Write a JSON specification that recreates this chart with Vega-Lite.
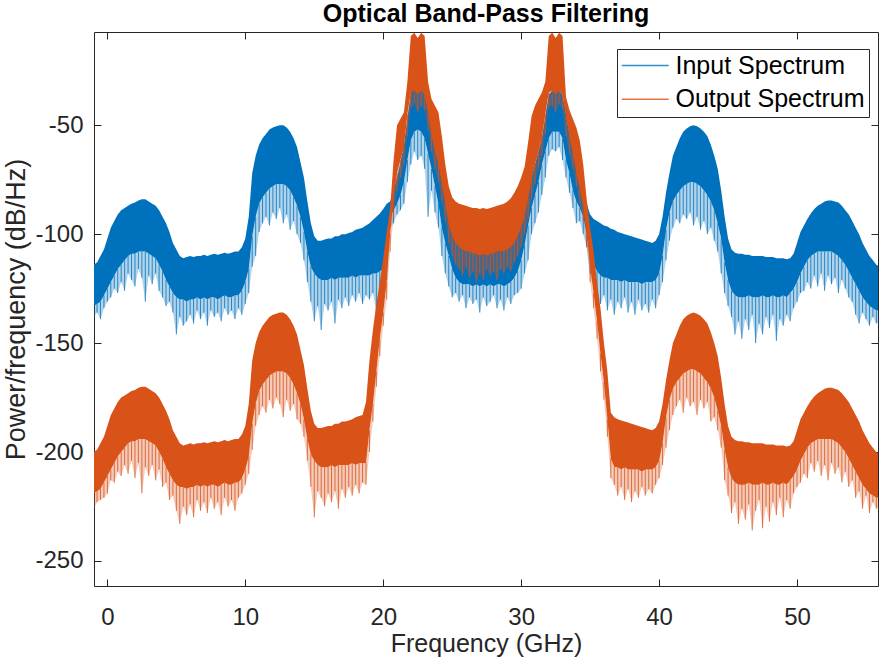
{
  "$schema": "https://vega.github.io/schema/vega-lite/v6.json",
  "width": 784,
  "height": 554,
  "autosize": {"type": "none"},
  "padding": {"left": 94, "top": 32, "right": 2, "bottom": 75},
  "background": "white",
  "title": {
    "text": "Optical Band-Pass Filtering",
    "font": "Liberation Sans",
    "fontSize": 25,
    "fontWeight": "bold",
    "color": "#000000",
    "anchor": "middle",
    "baseline": "bottom",
    "offset": 4,
    "dy": 24
  },
  "config": {
    "view": {"stroke": null},
    "font": "Liberation Sans",
    "axis": {
      "grid": false,
      "domainColor": "#262626",
      "domainWidth": 1,
      "tickColor": "#262626",
      "tickWidth": 1,
      "labelColor": "#262626",
      "labelFont": "Liberation Sans",
      "labelFontSize": 24,
      "labelFlush": false,
      "labelOverlap": false,
      "titleColor": "#262626",
      "titleFont": "Liberation Sans",
      "titleFontSize": 25,
      "titleFontWeight": "normal",
      "zindex": 1
    }
  },
  "datasets": {
    "input": [
      {"f":-1,"hi":-114,"lo":-133,"sp":-138},{"f":-0.75,"hi":-113,"lo":-132,"sp":-136},{"f":-0.5,"hi":-110,"lo":-131,"sp":-139},{"f":-0.25,"hi":-107,"lo":-128,"sp":-134},
      {"f":0,"hi":-102,"lo":-125,"sp":-131},{"f":0.25,"hi":-97,"lo":-122,"sp":-129},{"f":0.5,"hi":-94,"lo":-119,"sp":-125},{"f":0.75,"hi":-91,"lo":-116,"sp":-127},
      {"f":1,"hi":-89,"lo":-114,"sp":-122},{"f":1.25,"hi":-88,"lo":-112,"sp":-126},{"f":1.5,"hi":-87,"lo":-110,"sp":-118},{"f":1.75,"hi":-86,"lo":-109,"sp":-121},
      {"f":2,"hi":-85.5,"lo":-109,"sp":-124},{"f":2.25,"hi":-84.5,"lo":-108,"sp":-116},{"f":2.5,"hi":-84,"lo":-108,"sp":-120},{"f":2.75,"hi":-84,"lo":-108,"sp":-131},
      {"f":3,"hi":-85,"lo":-109,"sp":-119},{"f":3.25,"hi":-86,"lo":-110,"sp":-123},{"f":3.5,"hi":-87,"lo":-111,"sp":-118},{"f":3.75,"hi":-89,"lo":-114,"sp":-126},
      {"f":4,"hi":-92,"lo":-117,"sp":-129},{"f":4.25,"hi":-95,"lo":-121,"sp":-133},{"f":4.5,"hi":-99,"lo":-124,"sp":-131},{"f":4.75,"hi":-104,"lo":-127,"sp":-136},
      {"f":5,"hi":-107,"lo":-129,"sp":-146},{"f":5.25,"hi":-110,"lo":-130,"sp":-138},{"f":5.5,"hi":-111,"lo":-130,"sp":-142},{"f":5.75,"hi":-110.5,"lo":-131,"sp":-140},
      {"f":6,"hi":-110,"lo":-130,"sp":-137},{"f":6.25,"hi":-110.5,"lo":-130,"sp":-141},{"f":6.5,"hi":-110,"lo":-129,"sp":-135},{"f":6.75,"hi":-110,"lo":-130,"sp":-139},
      {"f":7,"hi":-109.5,"lo":-129,"sp":-136},{"f":7.25,"hi":-110,"lo":-130,"sp":-142},{"f":7.5,"hi":-109.5,"lo":-129,"sp":-135},{"f":7.75,"hi":-109,"lo":-129,"sp":-138},
      {"f":8,"hi":-109.5,"lo":-130,"sp":-136},{"f":8.25,"hi":-109,"lo":-129,"sp":-140},{"f":8.5,"hi":-108.5,"lo":-128,"sp":-134},{"f":8.75,"hi":-109,"lo":-129,"sp":-137},
      {"f":9,"hi":-108.5,"lo":-129,"sp":-135},{"f":9.25,"hi":-108,"lo":-128,"sp":-139},{"f":9.5,"hi":-108,"lo":-128,"sp":-134},{"f":9.75,"hi":-106,"lo":-126,"sp":-137},
      {"f":10,"hi":-102,"lo":-122,"sp":-132},{"f":10.25,"hi":-92,"lo":-116,"sp":-127},{"f":10.5,"hi":-72,"lo":-101,"sp":-115},{"f":10.75,"hi":-64,"lo":-92,"sp":-110},
      {"f":11,"hi":-59,"lo":-86,"sp":-99},{"f":11.25,"hi":-56,"lo":-83,"sp":-95},{"f":11.5,"hi":-54,"lo":-81,"sp":-92},{"f":11.75,"hi":-52,"lo":-79,"sp":-96},
      {"f":12,"hi":-51,"lo":-78,"sp":-90},{"f":12.25,"hi":-50.5,"lo":-77,"sp":-93},{"f":12.5,"hi":-50,"lo":-77,"sp":-88},{"f":12.75,"hi":-50,"lo":-77,"sp":-95},
      {"f":13,"hi":-51,"lo":-78,"sp":-91},{"f":13.25,"hi":-53,"lo":-80,"sp":-98},{"f":13.5,"hi":-56,"lo":-83,"sp":-94},{"f":13.75,"hi":-60,"lo":-87,"sp":-100},
      {"f":14,"hi":-67,"lo":-92,"sp":-104},{"f":14.25,"hi":-74,"lo":-99,"sp":-112},{"f":14.5,"hi":-85,"lo":-108,"sp":-122},{"f":14.75,"hi":-95,"lo":-115,"sp":-131},
      {"f":15,"hi":-101,"lo":-118,"sp":-140},{"f":15.25,"hi":-103,"lo":-120,"sp":-133},{"f":15.5,"hi":-103,"lo":-121,"sp":-144},{"f":15.75,"hi":-102.5,"lo":-121,"sp":-132},
      {"f":16,"hi":-102,"lo":-121,"sp":-135},{"f":16.25,"hi":-102,"lo":-120,"sp":-131},{"f":16.5,"hi":-101,"lo":-121,"sp":-141},{"f":16.75,"hi":-101,"lo":-120,"sp":-130},
      {"f":17,"hi":-100,"lo":-120,"sp":-134},{"f":17.25,"hi":-100,"lo":-120,"sp":-129},{"f":17.5,"hi":-99.5,"lo":-120,"sp":-133},{"f":17.75,"hi":-99,"lo":-119,"sp":-128},
      {"f":18,"hi":-98,"lo":-120,"sp":-131},{"f":18.25,"hi":-97.5,"lo":-119,"sp":-127},{"f":18.5,"hi":-97,"lo":-119,"sp":-132},{"f":18.75,"hi":-96,"lo":-119,"sp":-128},
      {"f":19,"hi":-95,"lo":-119,"sp":-130},{"f":19.25,"hi":-93.5,"lo":-118,"sp":-127},{"f":19.5,"hi":-92,"lo":-118,"sp":-136},{"f":19.75,"hi":-90.5,"lo":-117,"sp":-128},
      {"f":20,"hi":-88.5,"lo":-116,"sp":-126},{"f":20.25,"hi":-86,"lo":-112,"sp":-121},{"f":20.5,"hi":-85,"lo":-92,"sp":-97},{"f":20.75,"hi":-80,"lo":-89,"sp":-95},
      {"f":21,"hi":-74,"lo":-86,"sp":-91},{"f":21.25,"hi":-67,"lo":-82,"sp":-89},{"f":21.5,"hi":-59,"lo":-76,"sp":-86},{"f":21.75,"hi":-47,"lo":-66,"sp":-76},
      {"f":22,"hi":-35,"lo":-57,"sp":-68},{"f":22.25,"hi":-33,"lo":-53,"sp":-62},{"f":22.5,"hi":-32,"lo":-52,"sp":-66},{"f":22.75,"hi":-33,"lo":-53,"sp":-64},
      {"f":23,"hi":-35,"lo":-56,"sp":-70},{"f":23.25,"hi":-42,"lo":-63,"sp":-92},{"f":23.5,"hi":-50,"lo":-70,"sp":-80},{"f":23.75,"hi":-57,"lo":-78,"sp":-90},
      {"f":24,"hi":-63,"lo":-86,"sp":-97},{"f":24.25,"hi":-70,"lo":-97,"sp":-110},{"f":24.5,"hi":-77,"lo":-104,"sp":-118},{"f":24.75,"hi":-86,"lo":-110,"sp":-124},
      {"f":25,"hi":-94,"lo":-116,"sp":-129},{"f":25.25,"hi":-98,"lo":-120,"sp":-127},{"f":25.5,"hi":-100,"lo":-122,"sp":-131},{"f":25.75,"hi":-100,"lo":-123,"sp":-128},
      {"f":26,"hi":-100,"lo":-123,"sp":-134},{"f":26.25,"hi":-100,"lo":-123,"sp":-129},{"f":26.5,"hi":-100,"lo":-124,"sp":-132},{"f":26.75,"hi":-100,"lo":-123,"sp":-130},
      {"f":27,"hi":-100,"lo":-124,"sp":-136},{"f":27.25,"hi":-100,"lo":-123,"sp":-129},{"f":27.5,"hi":-100,"lo":-124,"sp":-133},{"f":27.75,"hi":-100,"lo":-123,"sp":-131},
      {"f":28,"hi":-100,"lo":-124,"sp":-128},{"f":28.25,"hi":-100,"lo":-123,"sp":-134},{"f":28.5,"hi":-100,"lo":-123,"sp":-130},{"f":28.75,"hi":-100,"lo":-124,"sp":-135},
      {"f":29,"hi":-100,"lo":-123,"sp":-129},{"f":29.25,"hi":-100,"lo":-122,"sp":-132},{"f":29.5,"hi":-99,"lo":-120,"sp":-128},{"f":29.75,"hi":-96,"lo":-117,"sp":-127},
      {"f":30,"hi":-92,"lo":-112,"sp":-125},{"f":30.25,"hi":-86,"lo":-105,"sp":-118},{"f":30.5,"hi":-80,"lo":-96,"sp":-112},{"f":30.75,"hi":-74,"lo":-88,"sp":-100},
      {"f":31,"hi":-68,"lo":-82,"sp":-95},{"f":31.25,"hi":-62,"lo":-76,"sp":-90},{"f":31.5,"hi":-56,"lo":-68,"sp":-82},{"f":31.75,"hi":-46,"lo":-62,"sp":-74},
      {"f":32,"hi":-36,"lo":-56,"sp":-64},{"f":32.25,"hi":-34,"lo":-53,"sp":-61},{"f":32.5,"hi":-33,"lo":-53,"sp":-62},{"f":32.75,"hi":-34,"lo":-53,"sp":-60},
      {"f":33,"hi":-36,"lo":-56,"sp":-66},{"f":33.25,"hi":-45,"lo":-66,"sp":-74},{"f":33.5,"hi":-54,"lo":-72,"sp":-81},{"f":33.75,"hi":-60,"lo":-80,"sp":-88},
      {"f":34,"hi":-66,"lo":-85,"sp":-95},{"f":34.25,"hi":-72,"lo":-88,"sp":-94},{"f":34.5,"hi":-78,"lo":-92,"sp":-100},{"f":34.75,"hi":-86,"lo":-100,"sp":-106},
      {"f":35,"hi":-91,"lo":-110,"sp":-118},{"f":35.25,"hi":-93,"lo":-114,"sp":-124},{"f":35.5,"hi":-94,"lo":-117,"sp":-129},{"f":35.75,"hi":-95,"lo":-119,"sp":-132},
      {"f":36,"hi":-96,"lo":-120,"sp":-128},{"f":36.25,"hi":-96.5,"lo":-120,"sp":-135},{"f":36.5,"hi":-97.5,"lo":-121,"sp":-130},{"f":36.75,"hi":-98,"lo":-121,"sp":-137},
      {"f":37,"hi":-99,"lo":-121,"sp":-131},{"f":37.25,"hi":-99.5,"lo":-122,"sp":-134},{"f":37.5,"hi":-100,"lo":-121,"sp":-129},{"f":37.75,"hi":-100.5,"lo":-122,"sp":-136},
      {"f":38,"hi":-101,"lo":-122,"sp":-131},{"f":38.25,"hi":-101.5,"lo":-122,"sp":-137},{"f":38.5,"hi":-102,"lo":-122,"sp":-130},{"f":38.75,"hi":-102.5,"lo":-123,"sp":-135},
      {"f":39,"hi":-103,"lo":-122,"sp":-132},{"f":39.25,"hi":-103.5,"lo":-122,"sp":-136},{"f":39.5,"hi":-104,"lo":-122,"sp":-130},{"f":39.75,"hi":-103,"lo":-121,"sp":-134},
      {"f":40,"hi":-100,"lo":-118,"sp":-128},{"f":40.25,"hi":-92,"lo":-110,"sp":-122},{"f":40.5,"hi":-81,"lo":-98,"sp":-112},{"f":40.75,"hi":-72,"lo":-90,"sp":-103},
      {"f":41,"hi":-64,"lo":-85,"sp":-97},{"f":41.25,"hi":-60,"lo":-82,"sp":-93},{"f":41.5,"hi":-56,"lo":-80,"sp":-95},{"f":41.75,"hi":-53,"lo":-78,"sp":-91},
      {"f":42,"hi":-51.5,"lo":-77,"sp":-93},{"f":42.25,"hi":-50.5,"lo":-76,"sp":-90},{"f":42.5,"hi":-50,"lo":-76,"sp":-96},{"f":42.75,"hi":-50.5,"lo":-77,"sp":-92},
      {"f":43,"hi":-51.5,"lo":-78,"sp":-98},{"f":43.25,"hi":-53,"lo":-80,"sp":-94},{"f":43.5,"hi":-55,"lo":-82,"sp":-100},{"f":43.75,"hi":-59,"lo":-85,"sp":-97},
      {"f":44,"hi":-64,"lo":-89,"sp":-103},{"f":44.25,"hi":-70,"lo":-95,"sp":-108},{"f":44.5,"hi":-80,"lo":-102,"sp":-118},{"f":44.75,"hi":-92,"lo":-113,"sp":-127},
      {"f":45,"hi":-102,"lo":-121,"sp":-133},{"f":45.25,"hi":-107,"lo":-126,"sp":-138},{"f":45.5,"hi":-108.5,"lo":-128,"sp":-146},{"f":45.75,"hi":-109,"lo":-129,"sp":-140},
      {"f":46,"hi":-109,"lo":-129,"sp":-148},{"f":46.25,"hi":-109.5,"lo":-129,"sp":-139},{"f":46.5,"hi":-109.5,"lo":-128,"sp":-144},{"f":46.75,"hi":-110,"lo":-129,"sp":-137},
      {"f":47,"hi":-110,"lo":-129,"sp":-150},{"f":47.25,"hi":-110,"lo":-129,"sp":-141},{"f":47.5,"hi":-110,"lo":-128,"sp":-146},{"f":47.75,"hi":-110.5,"lo":-129,"sp":-138},
      {"f":48,"hi":-110.5,"lo":-129,"sp":-143},{"f":48.25,"hi":-110.5,"lo":-128,"sp":-137},{"f":48.5,"hi":-111,"lo":-129,"sp":-149},{"f":48.75,"hi":-111,"lo":-129,"sp":-139},
      {"f":49,"hi":-111,"lo":-128,"sp":-142},{"f":49.25,"hi":-111.5,"lo":-129,"sp":-137},{"f":49.5,"hi":-111,"lo":-127,"sp":-140},{"f":49.75,"hi":-109,"lo":-125,"sp":-134},
      {"f":50,"hi":-104,"lo":-122,"sp":-131},{"f":50.25,"hi":-99,"lo":-118,"sp":-127},{"f":50.5,"hi":-96,"lo":-115,"sp":-126},{"f":50.75,"hi":-93,"lo":-112,"sp":-122},
      {"f":51,"hi":-90.5,"lo":-110,"sp":-125},{"f":51.25,"hi":-88.5,"lo":-109,"sp":-119},{"f":51.5,"hi":-87,"lo":-108,"sp":-124},{"f":51.75,"hi":-86,"lo":-108,"sp":-118},
      {"f":52,"hi":-85,"lo":-108,"sp":-126},{"f":52.25,"hi":-84.5,"lo":-108,"sp":-119},{"f":52.5,"hi":-84.5,"lo":-108,"sp":-123},{"f":52.75,"hi":-85,"lo":-109,"sp":-120},
      {"f":53,"hi":-85.5,"lo":-110,"sp":-127},{"f":53.25,"hi":-87,"lo":-112,"sp":-121},{"f":53.5,"hi":-89,"lo":-114,"sp":-125},{"f":53.75,"hi":-91,"lo":-117,"sp":-129},
      {"f":54,"hi":-94,"lo":-120,"sp":-131},{"f":54.25,"hi":-97,"lo":-123,"sp":-137},{"f":54.5,"hi":-100,"lo":-126,"sp":-141},{"f":54.75,"hi":-104,"lo":-129,"sp":-136},
      {"f":55,"hi":-107,"lo":-131,"sp":-139},{"f":55.25,"hi":-110,"lo":-133,"sp":-142},{"f":55.5,"hi":-112,"lo":-134,"sp":-138},{"f":55.75,"hi":-114,"lo":-135,"sp":-141},
      {"f":56,"hi":-115,"lo":-135,"sp":-140}
    ],
    "output": [
      {"f":-1,"hi":-200,"lo":-219,"sp":-226},{"f":-0.75,"hi":-199,"lo":-218,"sp":-223},{"f":-0.5,"hi":-196,"lo":-217,"sp":-222},{"f":-0.25,"hi":-193,"lo":-214,"sp":-221},
      {"f":0,"hi":-188,"lo":-211,"sp":-219},{"f":0.25,"hi":-183,"lo":-208,"sp":-213},{"f":0.5,"hi":-180,"lo":-205,"sp":-214},{"f":0.75,"hi":-177,"lo":-202,"sp":-209},
      {"f":1,"hi":-175,"lo":-200,"sp":-211},{"f":1.25,"hi":-174,"lo":-198,"sp":-206},{"f":1.5,"hi":-173,"lo":-196,"sp":-210},{"f":1.75,"hi":-172,"lo":-195,"sp":-204},
      {"f":2,"hi":-171.5,"lo":-195,"sp":-212},{"f":2.25,"hi":-170.5,"lo":-194,"sp":-205},{"f":2.5,"hi":-170,"lo":-194,"sp":-219},{"f":2.75,"hi":-170,"lo":-194,"sp":-207},
      {"f":3,"hi":-171,"lo":-195,"sp":-211},{"f":3.25,"hi":-172,"lo":-196,"sp":-206},{"f":3.5,"hi":-173,"lo":-197,"sp":-213},{"f":3.75,"hi":-175,"lo":-200,"sp":-208},
      {"f":4,"hi":-178,"lo":-203,"sp":-216},{"f":4.25,"hi":-181,"lo":-207,"sp":-214},{"f":4.5,"hi":-185,"lo":-210,"sp":-222},{"f":4.75,"hi":-190,"lo":-213,"sp":-220},
      {"f":5,"hi":-193,"lo":-215,"sp":-227},{"f":5.25,"hi":-196,"lo":-216,"sp":-233},{"f":5.5,"hi":-197,"lo":-216,"sp":-225},{"f":5.75,"hi":-196.5,"lo":-217,"sp":-229},
      {"f":6,"hi":-196,"lo":-216,"sp":-224},{"f":6.25,"hi":-196.5,"lo":-216,"sp":-230},{"f":6.5,"hi":-196,"lo":-215,"sp":-222},{"f":6.75,"hi":-196,"lo":-216,"sp":-227},
      {"f":7,"hi":-195.5,"lo":-215,"sp":-223},{"f":7.25,"hi":-196,"lo":-216,"sp":-228},{"f":7.5,"hi":-195.5,"lo":-215,"sp":-221},{"f":7.75,"hi":-195,"lo":-215,"sp":-226},
      {"f":8,"hi":-195.5,"lo":-216,"sp":-223},{"f":8.25,"hi":-195,"lo":-215,"sp":-229},{"f":8.5,"hi":-194.5,"lo":-214,"sp":-221},{"f":8.75,"hi":-195,"lo":-215,"sp":-225},
      {"f":9,"hi":-194.5,"lo":-215,"sp":-222},{"f":9.25,"hi":-194,"lo":-214,"sp":-227},{"f":9.5,"hi":-194,"lo":-214,"sp":-221},{"f":9.75,"hi":-192,"lo":-212,"sp":-219},
      {"f":10,"hi":-188,"lo":-208,"sp":-215},{"f":10.25,"hi":-178,"lo":-202,"sp":-210},{"f":10.5,"hi":-158,"lo":-187,"sp":-199},{"f":10.75,"hi":-150,"lo":-178,"sp":-188},
      {"f":11,"hi":-145,"lo":-172,"sp":-183},{"f":11.25,"hi":-142,"lo":-169,"sp":-179},{"f":11.5,"hi":-140,"lo":-167,"sp":-182},{"f":11.75,"hi":-138,"lo":-165,"sp":-176},
      {"f":12,"hi":-137,"lo":-164,"sp":-180},{"f":12.25,"hi":-136.5,"lo":-163,"sp":-175},{"f":12.5,"hi":-136,"lo":-163,"sp":-178},{"f":12.75,"hi":-136,"lo":-163,"sp":-184},
      {"f":13,"hi":-137,"lo":-164,"sp":-176},{"f":13.25,"hi":-139,"lo":-166,"sp":-181},{"f":13.5,"hi":-142,"lo":-169,"sp":-178},{"f":13.75,"hi":-146,"lo":-173,"sp":-185},
      {"f":14,"hi":-153,"lo":-178,"sp":-187},{"f":14.25,"hi":-160,"lo":-185,"sp":-193},{"f":14.5,"hi":-171,"lo":-194,"sp":-204},{"f":14.75,"hi":-181,"lo":-201,"sp":-216},
      {"f":15,"hi":-187,"lo":-204,"sp":-230},{"f":15.25,"hi":-189,"lo":-206,"sp":-218},{"f":15.5,"hi":-189,"lo":-207,"sp":-221},{"f":15.75,"hi":-188.5,"lo":-207,"sp":-225},
      {"f":16,"hi":-188,"lo":-207,"sp":-219},{"f":16.25,"hi":-188,"lo":-206,"sp":-223},{"f":16.5,"hi":-187,"lo":-207,"sp":-218},{"f":16.75,"hi":-187,"lo":-206,"sp":-226},
      {"f":17,"hi":-186,"lo":-206,"sp":-217},{"f":17.25,"hi":-186,"lo":-206,"sp":-221},{"f":17.5,"hi":-185.5,"lo":-206,"sp":-216},{"f":17.75,"hi":-185,"lo":-205,"sp":-220},
      {"f":18,"hi":-184,"lo":-206,"sp":-215},{"f":18.25,"hi":-183.5,"lo":-205,"sp":-219},{"f":18.5,"hi":-183,"lo":-205,"sp":-214},{"f":18.75,"hi":-177,"lo":-205,"sp":-215},
      {"f":19,"hi":-158,"lo":-190,"sp":-200},{"f":19.25,"hi":-144,"lo":-178,"sp":-186},{"f":19.5,"hi":-132,"lo":-163,"sp":-170},{"f":19.75,"hi":-122,"lo":-148,"sp":-156},
      {"f":20,"hi":-111,"lo":-136,"sp":-142},{"f":20.25,"hi":-99,"lo":-122,"sp":-130},{"f":20.5,"hi":-88,"lo":-100,"sp":-108},{"f":20.75,"hi":-66,"lo":-84,"sp":-92},
      {"f":21,"hi":-50,"lo":-72,"sp":-80},{"f":21.25,"hi":-47,"lo":-66,"sp":-74},{"f":21.5,"hi":-44,"lo":-60,"sp":-68},{"f":21.75,"hi":-30,"lo":-45,"sp":-55},
      {"f":22,"hi":-9,"lo":-35,"sp":-42},{"f":22.25,"hi":-7.5,"lo":-34,"sp":-40},{"f":22.5,"hi":-10,"lo":-36,"sp":-44},{"f":22.75,"hi":-7.5,"lo":-34,"sp":-41},
      {"f":23,"hi":-9,"lo":-36,"sp":-43},{"f":23.25,"hi":-30,"lo":-45,"sp":-52},{"f":23.5,"hi":-38,"lo":-55,"sp":-62},{"f":23.75,"hi":-41,"lo":-62,"sp":-70},
      {"f":24,"hi":-44,"lo":-68,"sp":-76},{"f":24.25,"hi":-55,"lo":-77,"sp":-85},{"f":24.5,"hi":-68,"lo":-86,"sp":-94},{"f":24.75,"hi":-78,"lo":-96,"sp":-104},
      {"f":25,"hi":-83,"lo":-101,"sp":-110},{"f":25.25,"hi":-85,"lo":-104,"sp":-114},{"f":25.5,"hi":-86,"lo":-106,"sp":-116},{"f":25.75,"hi":-86.5,"lo":-107,"sp":-119},
      {"f":26,"hi":-87,"lo":-108,"sp":-115},{"f":26.25,"hi":-87.5,"lo":-108,"sp":-120},{"f":26.5,"hi":-88,"lo":-109,"sp":-117},{"f":26.75,"hi":-88,"lo":-109,"sp":-122},
      {"f":27,"hi":-88.5,"lo":-110,"sp":-118},{"f":27.25,"hi":-88,"lo":-109,"sp":-121},{"f":27.5,"hi":-88.5,"lo":-110,"sp":-116},{"f":27.75,"hi":-88,"lo":-109,"sp":-119},
      {"f":28,"hi":-87.5,"lo":-109,"sp":-117},{"f":28.25,"hi":-87,"lo":-108,"sp":-121},{"f":28.5,"hi":-86.5,"lo":-108,"sp":-116},{"f":28.75,"hi":-86,"lo":-108,"sp":-118},
      {"f":29,"hi":-85,"lo":-107,"sp":-115},{"f":29.25,"hi":-83.5,"lo":-106,"sp":-117},{"f":29.5,"hi":-81,"lo":-104,"sp":-113},{"f":29.75,"hi":-78,"lo":-101,"sp":-110},
      {"f":30,"hi":-74,"lo":-97,"sp":-106},{"f":30.25,"hi":-69,"lo":-92,"sp":-100},{"f":30.5,"hi":-58,"lo":-84,"sp":-93},{"f":30.75,"hi":-46,"lo":-75,"sp":-84},
      {"f":31,"hi":-41,"lo":-68,"sp":-77},{"f":31.25,"hi":-38,"lo":-62,"sp":-70},{"f":31.5,"hi":-35,"lo":-56,"sp":-64},{"f":31.75,"hi":-30,"lo":-45,"sp":-54},
      {"f":32,"hi":-9,"lo":-35,"sp":-42},{"f":32.25,"hi":-7.5,"lo":-34,"sp":-41},{"f":32.5,"hi":-10,"lo":-36,"sp":-44},{"f":32.75,"hi":-7.5,"lo":-34,"sp":-40},
      {"f":33,"hi":-9,"lo":-36,"sp":-43},{"f":33.25,"hi":-37,"lo":-46,"sp":-55},{"f":33.5,"hi":-43,"lo":-55,"sp":-63},{"f":33.75,"hi":-47,"lo":-63,"sp":-70},
      {"f":34,"hi":-51,"lo":-72,"sp":-78},{"f":34.25,"hi":-57,"lo":-79,"sp":-86},{"f":34.5,"hi":-68,"lo":-88,"sp":-94},{"f":34.75,"hi":-84,"lo":-100,"sp":-106},
      {"f":35,"hi":-97,"lo":-115,"sp":-122},{"f":35.25,"hi":-108,"lo":-127,"sp":-134},{"f":35.5,"hi":-122,"lo":-140,"sp":-148},{"f":35.75,"hi":-134,"lo":-155,"sp":-163},
      {"f":36,"hi":-150,"lo":-168,"sp":-176},{"f":36.25,"hi":-163,"lo":-185,"sp":-193},{"f":36.5,"hi":-182,"lo":-203,"sp":-212},{"f":36.75,"hi":-184,"lo":-207,"sp":-215},
      {"f":37,"hi":-185,"lo":-207,"sp":-220},{"f":37.25,"hi":-185.5,"lo":-208,"sp":-216},{"f":37.5,"hi":-186,"lo":-207,"sp":-222},{"f":37.75,"hi":-186.5,"lo":-208,"sp":-217},
      {"f":38,"hi":-187,"lo":-208,"sp":-223},{"f":38.25,"hi":-187.5,"lo":-208,"sp":-218},{"f":38.5,"hi":-188,"lo":-208,"sp":-221},{"f":38.75,"hi":-188.5,"lo":-209,"sp":-216},
      {"f":39,"hi":-189,"lo":-208,"sp":-220},{"f":39.25,"hi":-189.5,"lo":-208,"sp":-217},{"f":39.5,"hi":-190,"lo":-208,"sp":-219},{"f":39.75,"hi":-189,"lo":-207,"sp":-215},
      {"f":40,"hi":-186,"lo":-204,"sp":-212},{"f":40.25,"hi":-178,"lo":-196,"sp":-206},{"f":40.5,"hi":-167,"lo":-184,"sp":-198},{"f":40.75,"hi":-158,"lo":-176,"sp":-190},
      {"f":41,"hi":-150,"lo":-171,"sp":-183},{"f":41.25,"hi":-146,"lo":-168,"sp":-179},{"f":41.5,"hi":-142,"lo":-166,"sp":-176},{"f":41.75,"hi":-139,"lo":-164,"sp":-182},
      {"f":42,"hi":-137.5,"lo":-163,"sp":-175},{"f":42.25,"hi":-136.5,"lo":-162,"sp":-179},{"f":42.5,"hi":-136,"lo":-162,"sp":-177},{"f":42.75,"hi":-136.5,"lo":-163,"sp":-183},
      {"f":43,"hi":-137.5,"lo":-164,"sp":-176},{"f":43.25,"hi":-139,"lo":-166,"sp":-180},{"f":43.5,"hi":-141,"lo":-168,"sp":-177},{"f":43.75,"hi":-145,"lo":-171,"sp":-186},
      {"f":44,"hi":-150,"lo":-175,"sp":-184},{"f":44.25,"hi":-156,"lo":-181,"sp":-190},{"f":44.5,"hi":-166,"lo":-188,"sp":-198},{"f":44.75,"hi":-178,"lo":-199,"sp":-213},
      {"f":45,"hi":-188,"lo":-207,"sp":-220},{"f":45.25,"hi":-193,"lo":-212,"sp":-228},{"f":45.5,"hi":-194.5,"lo":-214,"sp":-223},{"f":45.75,"hi":-195,"lo":-215,"sp":-233},
      {"f":46,"hi":-195,"lo":-215,"sp":-226},{"f":46.25,"hi":-195.5,"lo":-215,"sp":-231},{"f":46.5,"hi":-195.5,"lo":-214,"sp":-224},{"f":46.75,"hi":-196,"lo":-215,"sp":-236},
      {"f":47,"hi":-196,"lo":-215,"sp":-227},{"f":47.25,"hi":-196,"lo":-215,"sp":-222},{"f":47.5,"hi":-196,"lo":-214,"sp":-235},{"f":47.75,"hi":-196.5,"lo":-215,"sp":-225},
      {"f":48,"hi":-196.5,"lo":-215,"sp":-232},{"f":48.25,"hi":-196.5,"lo":-214,"sp":-223},{"f":48.5,"hi":-197,"lo":-215,"sp":-229},{"f":48.75,"hi":-197,"lo":-215,"sp":-221},
      {"f":49,"hi":-197,"lo":-214,"sp":-230},{"f":49.25,"hi":-197.5,"lo":-215,"sp":-222},{"f":49.5,"hi":-197,"lo":-213,"sp":-226},{"f":49.75,"hi":-195,"lo":-211,"sp":-219},
      {"f":50,"hi":-190,"lo":-208,"sp":-216},{"f":50.25,"hi":-185,"lo":-204,"sp":-214},{"f":50.5,"hi":-182,"lo":-201,"sp":-210},{"f":50.75,"hi":-179,"lo":-198,"sp":-212},
      {"f":51,"hi":-176.5,"lo":-196,"sp":-205},{"f":51.25,"hi":-174.5,"lo":-195,"sp":-209},{"f":51.5,"hi":-173,"lo":-194,"sp":-204},{"f":51.75,"hi":-172,"lo":-194,"sp":-211},
      {"f":52,"hi":-171,"lo":-194,"sp":-206},{"f":52.25,"hi":-170.5,"lo":-194,"sp":-213},{"f":52.5,"hi":-170.5,"lo":-194,"sp":-205},{"f":52.75,"hi":-171,"lo":-195,"sp":-210},
      {"f":53,"hi":-171.5,"lo":-196,"sp":-207},{"f":53.25,"hi":-173,"lo":-198,"sp":-214},{"f":53.5,"hi":-175,"lo":-200,"sp":-209},{"f":53.75,"hi":-177,"lo":-203,"sp":-216},
      {"f":54,"hi":-180,"lo":-206,"sp":-213},{"f":54.25,"hi":-183,"lo":-209,"sp":-221},{"f":54.5,"hi":-186,"lo":-212,"sp":-218},{"f":54.75,"hi":-190,"lo":-215,"sp":-226},
      {"f":55,"hi":-193,"lo":-217,"sp":-220},{"f":55.25,"hi":-196,"lo":-219,"sp":-228},{"f":55.5,"hi":-198,"lo":-220,"sp":-223},{"f":55.75,"hi":-200,"lo":-221,"sp":-226},
      {"f":56,"hi":-201,"lo":-221,"sp":-225}
    ]
  },
  "layer": [
    {
      "data": {"name": "input"},
      "mark": {"type": "area", "color": "#0072BD", "opacity": 0.3, "clip": true},
      "encoding": {
        "x": {
          "field": "f", "type": "quantitative",
          "scale": {"domain": [-0.97, 55.87], "nice": false, "zero": false},
          "axis": {
            "orient": "bottom", "values": [0, 10, 20, 30, 40, 50],
            "tickSize": -7, "labelPadding": 26,
            "labelExpr": "'' + datum.value",
            "title": "Frequency (GHz)", "titlePadding": 2
          }
        },
        "y": {
          "field": "lo", "type": "quantitative",
          "scale": {"domain": [-261.5, -7.2], "nice": false, "zero": false},
          "axis": {
            "orient": "left", "values": [-250, -200, -150, -100, -50],
            "tickSize": -7, "labelPadding": 18,
            "labelExpr": "'' + datum.value",
            "title": "Power/frequency (dB/Hz)", "titleFontSize": 27, "titlePadding": 4
          }
        },
        "y2": {"field": "sp"}
      }
    },
    {
      "data": {"name": "input"},
      "mark": {"type": "area", "color": "#0072BD", "clip": true},
      "encoding": {
        "x": {
          "field": "f", "type": "quantitative",
          "axis": {"orient": "top", "values": [0, 10, 20, 30, 40, 50], "labels": false, "tickSize": -7, "title": null}
        },
        "y": {
          "field": "hi", "type": "quantitative",
          "axis": {"orient": "right", "values": [-250, -200, -150, -100, -50], "labels": false, "tickSize": -7, "title": null}
        },
        "y2": {"field": "lo"}
      }
    },
    {
      "data": {"name": "input"},
      "mark": {"type": "rule", "strokeWidth": 1, "opacity": 0.8, "clip": true},
      "encoding": {
        "x": {"field": "f", "type": "quantitative", "axis": null},
        "y": {"field": "lo", "type": "quantitative", "axis": null},
        "y2": {"field": "sp"},
        "stroke": {
          "datum": "Input Spectrum", "type": "nominal",
          "scale": {"domain": ["Input Spectrum", "Output Spectrum"], "range": ["#0072BD", "#D95319"]},
          "legend": {
            "orient": "none", "legendX": 523, "legendY": 17, "title": null,
            "symbolType": "M-1,0H3", "symbolSize": 552, "symbolStrokeWidth": 1.5, "symbolOpacity": 1,
            "labelFont": "Liberation Sans", "labelFontSize": 25, "labelColor": "#000000", "labelLimit": 400,
            "labelOffset": 29.5, "padding": 4, "rowPadding": 7.7,
            "strokeColor": "#262626", "fillColor": "white"
          }
        }
      }
    },
    {
      "data": {"name": "output"},
      "mark": {"type": "area", "color": "#D95319", "opacity": 0.3, "clip": true},
      "encoding": {
        "x": {"field": "f", "type": "quantitative", "axis": null},
        "y": {"field": "lo", "type": "quantitative", "axis": null},
        "y2": {"field": "sp"}
      }
    },
    {
      "data": {"name": "output"},
      "mark": {"type": "area", "color": "#D95319", "clip": true},
      "encoding": {
        "x": {"field": "f", "type": "quantitative", "axis": null},
        "y": {"field": "hi", "type": "quantitative", "axis": null},
        "y2": {"field": "lo"}
      }
    },
    {
      "data": {"name": "output"},
      "mark": {"type": "rule", "strokeWidth": 1, "opacity": 0.8, "clip": true},
      "encoding": {
        "x": {"field": "f", "type": "quantitative", "axis": null},
        "y": {"field": "lo", "type": "quantitative", "axis": null},
        "y2": {"field": "sp"},
        "stroke": {
          "datum": "Output Spectrum", "type": "nominal",
          "scale": {"domain": ["Input Spectrum", "Output Spectrum"], "range": ["#0072BD", "#D95319"]}
        }
      }
    }
  ],
  "resolve": {"axis": {"x": "independent", "y": "independent"}}
}
